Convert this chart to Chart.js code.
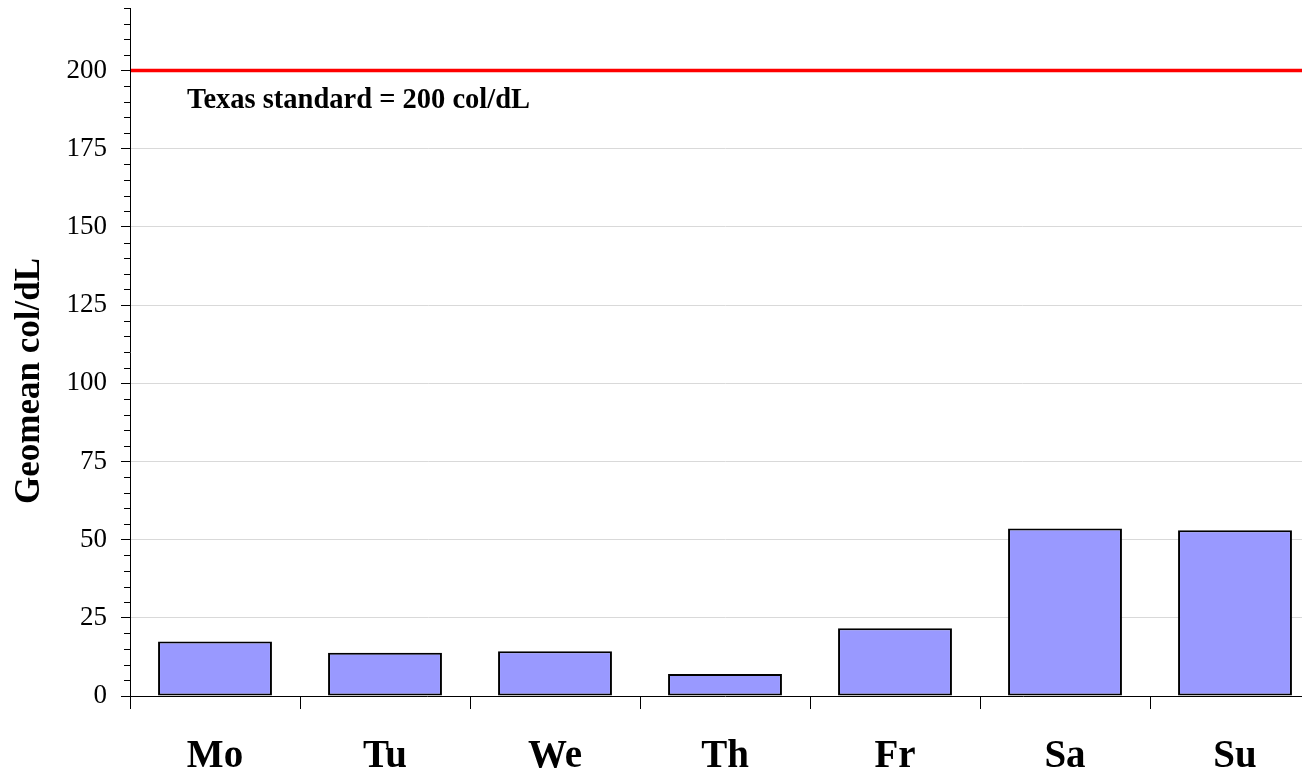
<!DOCTYPE html>
<html>
<head>
<meta charset="utf-8">
<script src="https://cdn.jsdelivr.net/npm/chart.js@4/dist/chart.umd.min.js"></script>
<style>
  html, body { margin: 0; padding: 0; background: #fff; overflow: hidden; }
  #wrap { width: 1320px; height: 774px; }
</style>
</head>
<body>
<div id="wrap"><canvas id="c" width="1320" height="774"></canvas></div>
<script>
const categories = ['Mo', 'Tu', 'We', 'Th', 'Fr', 'Sa', 'Su'];
const geomeanValues = [17.4, 13.8, 14.3, 7.0, 21.7, 53.6, 53.0];
const standardValue = 200;
const standardLabel = 'Texas standard = 200 col/dL';
const yAxisTitle = 'Geomean col/dL';
const yMin = 0, yMax = 220, yStep = 25, yMinorStep = 5;

const serif = "'Liberation Serif', 'Times New Roman', serif";

const overlay = {
  id: 'overlay',
  afterDatasetsDraw(chart) {
    const { ctx, chartArea, scales } = chart;
    const y = scales.y;
    ctx.save();
    // minor ticks
    ctx.strokeStyle = '#000';
    ctx.lineWidth = 1;
    for (let v = yMin; v <= yMax; v += yMinorStep) {
      if (v % yStep === 0) continue;
      const py = Math.round(y.getPixelForValue(v)) + 0.5;
      ctx.beginPath();
      ctx.moveTo(chartArea.left - 6, py);
      ctx.lineTo(chartArea.left, py);
      ctx.stroke();
    }
    // standard line
    const sy = y.getPixelForValue(standardValue);
    ctx.strokeStyle = '#ff0000';
    ctx.lineWidth = 3.5;
    ctx.beginPath();
    ctx.moveTo(chartArea.left + 1, sy);
    ctx.lineTo(chartArea.right, sy);
    ctx.stroke();
    // label
    ctx.fillStyle = '#000';
    ctx.font = 'bold 28.5px ' + serif;
    ctx.textBaseline = 'alphabetic';
    ctx.textAlign = 'left';
    ctx.fillText(standardLabel, chartArea.left + 57, sy + 37);
    // y-axis title
    ctx.translate(30, 381);
    ctx.rotate(-Math.PI / 2);
    ctx.textAlign = 'center';
    ctx.textBaseline = 'middle';
    ctx.font = 'bold 35px ' + serif;
    ctx.fillText(yAxisTitle, 0, 0);
    ctx.restore();
  }
};

new Chart(document.getElementById('c'), {
  type: 'bar',
  data: {
    labels: categories,
    datasets: [{
      data: geomeanValues,
      backgroundColor: '#9999ff',
      borderColor: '#000000',
      borderWidth: 2,
      borderSkipped: false,
      barPercentage: 0.67,
      categoryPercentage: 1.0
    }]
  },
  options: {
    responsive: false,
    animation: false,
    layout: { padding: { top: 8, left: 0, right: 0, bottom: 0 } },
    plugins: { legend: { display: false }, tooltip: { enabled: false } },
    scales: {
      x: {
        grid: { display: true, drawOnChartArea: false, offset: true, tickLength: 13, color: '#000', tickColor: '#000' },
        border: { display: true, color: '#000', width: 1 },
        ticks: { font: { family: serif, size: 39, weight: 'bold' }, color: '#000', padding: 25 },
        afterFit(s) { s.height = 78; s.paddingLeft = 0; s.paddingRight = 0; }
      },
      y: {
        min: yMin, max: yMax,
        ticks: { stepSize: yStep, includeBounds: false, font: { family: serif, size: 27 }, color: '#000', padding: 14 },
        grid: { color: ctx => (ctx.tick && ctx.tick.value === 0) ? 'rgba(0,0,0,0)' : '#d9d9d9', tickColor: '#000', tickLength: 9, lineWidth: 1 },
        border: { display: true, color: '#000', width: 1 },
        title: { display: false },
        afterFit(s) { s.width = 130; s.paddingTop = 0; s.paddingBottom = 0; }
      }
    }
  },
  plugins: [overlay]
});
</script>
</body>
</html>
